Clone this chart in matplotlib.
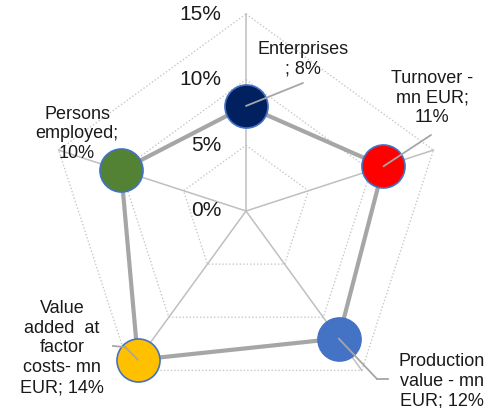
import numpy as np
import matplotlib
matplotlib.use('Agg')
import matplotlib.pyplot as plt
from matplotlib.lines import Line2D

plt.rcParams['font.family'] = ['Liberation Sans', 'DejaVu Sans']

# data
categories = ['Enterprises', 'Turnover', 'Production value',
              'Value added', 'Persons employed']
values = [8, 11, 12, 14, 10]
labels = ['Enterprises\n; 8%', 'Turnover -\nmn EUR;\n11%',
          'Production\nvalue - mn\nEUR; 12%',
          'Value\nadded  at\nfactor\ncosts- mn\nEUR; 14%',
          'Persons\nemployed;\n10%']
marker_colors = ['#002060', '#FF0000', '#4472C4', '#FFC000', '#548235']
edge_colors = ['#4472C4', '#4472C4', '#4472C4', '#4472C4', '#4472C4']
rticks = [0, 5, 10, 15]
rtick_labels = ['0%', '5%', '10%', '15%']

# label placement (figure pixels) and leader ends
label_pos = [(303, 349), (432, 310), (442, 27), (62, 60), (77, 274)]
leader_end = [(303, 325), (431, 273), (377, 29), (125, 61), None]
leader_stub = [None, None, (388, 29), (113, 62), None]

fig = plt.figure(figsize=(4.9, 4.08), dpi=100)
ax = fig.add_axes([49 / 490, 0, 394 / 490, 394 / 408], projection='polar')
ax.set_theta_zero_location('N')
ax.set_theta_direction(-1)
ax.set_ylim(0, 15)
ax.grid(False)
ax.set_xticks([])
ax.set_yticks([])
ax.spines['polar'].set_visible(False)
ax.patch.set_visible(False)

n = len(categories)
angles = [2 * np.pi * i / n for i in range(n)]
closed = angles + angles[:1]

# polygon rings
for r in rticks[1:]:
    ax.plot(closed, [r] * (n + 1), color='#C8C8C8', lw=1,
            linestyle=(0, (1, 1.5)), zorder=1, clip_on=False)
# spokes
for a in angles:
    ax.plot([a, a], [0, rticks[-1]], color='#BFBFBF', lw=1.1, zorder=2,
            clip_on=False)

# radial tick labels
for r, t in zip(rticks, rtick_labels):
    ax.annotate(t, xy=(0, r), xytext=(-25, 0), textcoords='offset pixels',
                ha='right', va='center', fontsize=15, color='#1a1a1a',
                annotation_clip=False)

# series line
ax.plot(closed, values + values[:1], color='#A6A6A6', lw=3, zorder=3,
        solid_joinstyle='miter', clip_on=False)

# markers
for a, v, fc, ec in zip(angles, values, marker_colors, edge_colors):
    ax.plot([a], [v], 'o', ms=31, mfc=fc, mec=ec, mew=1.2, zorder=4,
            clip_on=False)

# labels and leader lines
for a, v, lab, pos, end, stub in zip(angles, values, labels, label_pos,
                                     leader_end, leader_stub):
    fig.text(pos[0] / 490, pos[1] / 408, lab, ha='center', va='center',
             fontsize=13, color='#1a1a1a', linespacing=1.22)
    if end is not None:
        ax.annotate('', xy=(a, v), xytext=end, textcoords='figure pixels',
                    arrowprops=dict(arrowstyle='-', color='#A6A6A6', lw=1.3,
                                    shrinkA=0, shrinkB=0), zorder=5,
                    annotation_clip=False)
    if stub is not None:
        fig.add_artist(Line2D([end[0] / 490, stub[0] / 490],
                              [end[1] / 408, stub[1] / 408],
                              color='#A6A6A6', lw=1.3))

fig.savefig('out.png', dpi=100)
